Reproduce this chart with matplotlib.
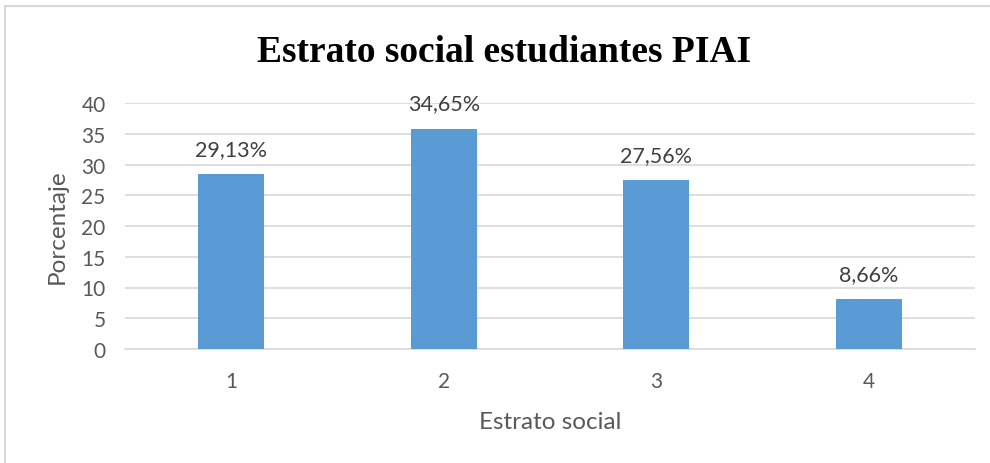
import matplotlib.pyplot as plt
from matplotlib.lines import Line2D

# datos
categorias = ['1', '2', '3', '4']
valores = [28.4, 35.8, 27.5, 8.1]
etiquetas = ['29,13%', '34,65%', '27,56%', '8,66%']
yticks = [0, 5, 10, 15, 20, 25, 30, 35, 40]

gris = '#595959'
plt.rcParams['font.family'] = ['Lato', 'DejaVu Sans']

fig = plt.figure(figsize=(9.9, 4.64), dpi=100)
ax = fig.add_axes([125 / 990, 1 - 350 / 464, 850 / 990, 246 / 464])

x = range(len(categorias))
barras = ax.bar(x, valores, width=0.31, color='#5B9BD5', zorder=3)
ax.bar_label(barras, labels=etiquetas, padding=11, fontsize=15.5, color='#404040')

ax.set_xlim(-0.5, len(categorias) - 0.5)
ax.set_ylim(0, 40)
ax.set_yticks(yticks)
ax.set_xticks(list(x))
ax.set_xticklabels(categorias)
ax.tick_params(axis='both', length=0, labelsize=15, labelcolor=gris)
ax.tick_params(axis='y', pad=14)
ax.tick_params(axis='x', pad=16)
ax.grid(axis='y', color='#d9d9d9', linewidth=1.2, zorder=0)
for s in ['top', 'right', 'left']:
    ax.spines[s].set_visible(False)
ax.spines['bottom'].set_color('#d9d9d9')
ax.spines['bottom'].set_linewidth(1.2)

ax.set_ylabel('Porcentaje', fontsize=17.5, color=gris, labelpad=10)
ax.set_xlabel('Estrato social', fontsize=17.5, color=gris, labelpad=14)

fig.text(504 / 990, 1 - 53 / 464, 'Estrato social estudiantes PIAI',
         ha='center', va='center', fontsize=27, fontweight='bold',
         family='Liberation Serif', color='black')

# marco del gráfico (recortado abajo y a la derecha)
fig.add_artist(Line2D([5 / 990, 5 / 990], [0, 1 - 7 / 464],
                      transform=fig.transFigure, color='#d9d9d9', linewidth=1.5))
fig.add_artist(Line2D([5 / 990, 1], [1 - 7 / 464, 1 - 7 / 464],
                      transform=fig.transFigure, color='#d9d9d9', linewidth=1.5))

fig.savefig('out.png', dpi=100, facecolor='white')
